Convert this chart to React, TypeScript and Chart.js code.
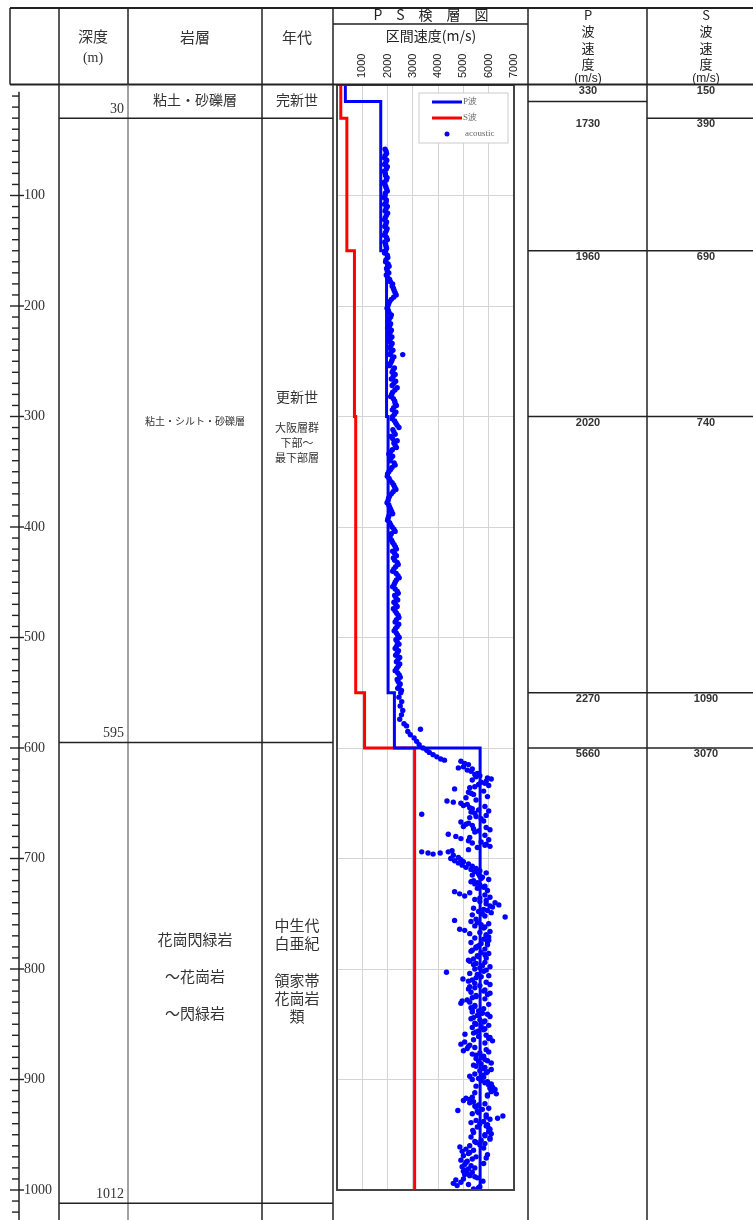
import { useEffect, useRef } from "react";
import { Chart, registerables } from "chart.js";
Chart.register(...registerables);

// ---- data ----
const velocityTicks = [1000, 2000, 3000, 4000, 5000, 6000, 7000];
const depthTicks = [100, 200, 300, 400, 500, 600, 700, 800, 900, 1000];
const pTops = [0, 15, 150, 300, 550, 600];
const pVel = [330, 1730, 1960, 2020, 2270, 5660];
const sTops = [0, 30, 150, 300, 550, 600];
const sVel = [150, 390, 690, 740, 1090, 3070];
const logBottom = 1000;
const layerBottoms = [30, 595, 1012];

// acoustic log readings [depth m, velocity m/s]
const acousticPoints: [number, number][] = [
  [58, 1900], [62, 1960], [66, 1880], [70, 1930], [74, 1990], [78, 1870], [82, 1920], [86, 1950],
  [90, 1890], [94, 1960], [98, 1910], [102, 1870], [106, 1940], [110, 1990], [114, 1900], [118, 1950],
  [122, 1880], [126, 1930], [130, 1980], [134, 1910], [138, 1960], [142, 1890], [146, 1940], [150, 1920],
  [154, 1990], [158, 1940], [162, 2020], [166, 1960], [170, 2050], [174, 2000], [178, 2110], [182, 2180],
  [186, 2260], [190, 2340], [194, 2150], [198, 2040], [202, 1980], [206, 2060], [210, 2120], [214, 2010],
  [218, 2080], [222, 2150], [226, 2050], [230, 2100], [234, 2180], [238, 2070], [242, 2130], [244, 2600],
  [246, 2250], [250, 2160], [254, 2080], [258, 2220], [262, 2300], [266, 2150], [270, 2250], [274, 2380],
  [278, 2200], [282, 2120], [286, 2280], [290, 2350], [294, 2190], [298, 2270],
  [302, 2180], [306, 2330], [310, 2450], [314, 2250], [318, 2120], [322, 2380], [326, 2300], [330, 2190],
  [334, 2050], [338, 2130], [342, 2260], [346, 2180], [350, 2050], [354, 1990], [358, 2100], [362, 2240],
  [366, 2330], [370, 2150], [374, 2040], [378, 1980], [382, 2080], [386, 2160], [390, 2050], [394, 2000],
  [398, 2120], [402, 2250], [406, 2150], [410, 2090], [414, 2200], [418, 2310], [422, 2200], [426, 2350],
  [430, 2280], [434, 2420], [438, 2250], [442, 2340], [446, 2460], [450, 2300], [454, 2200], [458, 2380],
  [462, 2280], [466, 2400], [470, 2320], [474, 2230], [478, 2360], [482, 2450], [486, 2300], [490, 2380],
  [494, 2260], [498, 2400], [502, 2330], [506, 2450], [510, 2300], [514, 2380], [518, 2480], [522, 2350],
  [526, 2420], [530, 2300], [534, 2460], [538, 2380], [542, 2500], [546, 2400], [550, 2520],
  [554, 2450], [558, 2560], [562, 2500], [566, 2600], [570, 2550], [574, 2480], [578, 2650], [580, 2750],
  [583, 3300], [585, 2800], [588, 2900], [591, 3050], [594, 3150], [597, 3250], [600, 3400], [602, 3550],
  [604, 3650], [606, 3800], [608, 3950], [610, 4100], [611, 4250], [612, 4900], [614, 5050], [615, 5200],
  [617, 5000], [619, 5350], [621, 5300], [623, 5550], [625, 5650], [626, 5500], [628, 6100], [630, 5900],
  [631, 5700], [633, 5600], [635, 5450], [637, 4650], [640, 5200], [642, 5400], [645, 5100], [648, 4350],
  [649, 4600], [650, 4900], [652, 5000], [654, 5250], [656, 5600], [658, 5300], [660, 3350], [662, 5500],
  [664, 5700], [667, 4900], [669, 5100], [671, 5000], [673, 5400], [675, 5600], [678, 4400], [680, 4700],
  [682, 4900], [684, 5200], [685, 5700], [687, 5900], [689, 6050], [694, 3350], [695, 3600], [696, 3800],
  [695, 4080], [694, 4400], [693, 4550], [700, 4500], [702, 4650], [704, 4800], [706, 4950], [708, 5100],
  [710, 5300], [712, 5450], [714, 5600], [716, 5650], [718, 5700], [720, 5400], [722, 5550], [724, 5650],
  [726, 5800], [730, 4650], [732, 4850], [734, 5050], [736, 5650], [738, 5900], [740, 6250], [742, 6400],
  [744, 6150], [746, 5800], [748, 5600], [750, 5750], [753, 6650], [756, 4650], [758, 5550], [760, 5700],
  [762, 5850], [764, 4850], [765, 5050], [767, 5650], [769, 5900], [771, 6000], [773, 5800], [775, 5950],
  [777, 5700], [779, 5600],
  [781, 5500], [783, 5350], [785, 5700], [787, 5850], [789, 5600], [791, 5400], [793, 5250], [795, 5500],
  [797, 5750], [799, 5650], [801, 5900], [803, 4330], [805, 5550], [807, 5700], [809, 4980], [811, 5200],
  [813, 5450], [815, 5650], [816, 5250], [818, 5200], [820, 5800], [822, 6050], [824, 5500], [826, 5350],
  [828, 5150], [829, 4950], [831, 4900], [833, 5450], [835, 5300], [837, 5350], [838, 5600], [840, 5750],
  [842, 5550], [844, 5400], [846, 5650], [848, 5800], [850, 5500], [852, 5700], [854, 5850], [856, 5600],
  [858, 5400], [859, 5060], [861, 5600], [863, 6000], [865, 6150], [866, 5050], [868, 4900], [870, 5200],
  [872, 5150], [874, 5000], [876, 5650], [878, 5500], [880, 5750], [882, 5850], [884, 5600], [886, 5700],
  [888, 5500], [890, 5800], [892, 5650], [894, 5900], [896, 5750], [897, 5250], [899, 5600], [901, 5700],
  [903, 5850], [905, 6000], [907, 6150], [909, 6250], [911, 6100], [913, 6300], [915, 5950], [917, 5100],
  [919, 5000], [921, 5250], [923, 5600], [925, 5500], [927, 5750], [928, 4780], [930, 5600], [932, 5900],
  [933, 6560], [935, 6350], [936, 6050], [938, 5800], [940, 5650], [942, 5900], [944, 6000], [946, 5370],
  [947, 6000], [949, 6100], [951, 5850], [953, 6050], [955, 5700], [957, 5500], [959, 5650], [961, 4860],
  [963, 5100], [965, 4950], [967, 5200], [969, 5000], [971, 5900], [973, 4900], [975, 5100], [977, 5050],
  [979, 4950], [981, 5200], [983, 5000], [985, 5150], [987, 5250], [989, 5550], [991, 4700], [992, 5770],
  [994, 4600], [996, 4750], [997, 5650], [998, 5600],
];

// further acoustic readings between the ones above
const acousticInfill: [number, number][] = [
  [60, 1940], [64, 1900], [68, 1970], [72, 1880], [76, 1950], [80, 1910], [84, 1980], [88, 1870],
  [92, 1930], [96, 1990], [100, 1900], [104, 1950], [108, 1880], [112, 1940], [116, 2000], [120, 1910],
  [124, 1960], [128, 1890], [132, 1950], [136, 1870], [140, 1990], [144, 1920], [148, 1960], [152, 1880],
  [156, 2010], [160, 1920], [164, 2060], [168, 1990], [172, 1950], [176, 2080], [180, 2200], [184, 2230],
  [188, 2300], [192, 2240], [196, 2080], [200, 2010], [204, 2030], [208, 2150], [212, 2060], [216, 2120],
  [220, 2000], [224, 2100], [228, 2170], [232, 2040], [236, 2130], [240, 2210], [244, 2090], [248, 2190],
  [252, 2110], [256, 2270], [260, 2180], [264, 2220], [268, 2320], [272, 2180], [276, 2290], [280, 2160],
  [284, 2230], [288, 2300], [292, 2240], [296, 2330], [300, 2200],
  [304, 2280], [308, 2380], [312, 2210], [316, 2300], [320, 2200], [324, 2250], [328, 2350], [332, 2120],
  [336, 2200], [340, 2090], [344, 2300], [348, 2120], [352, 2000], [356, 2060], [360, 2180], [364, 2280],
  [368, 2220], [372, 2080], [376, 2020], [380, 2050], [384, 2120], [388, 2200], [392, 2020], [396, 2080],
  [400, 2180], [404, 2300], [408, 2100], [412, 2160], [416, 2260], [420, 2350], [424, 2280], [428, 2230],
  [432, 2380], [436, 2320], [440, 2200], [444, 2410], [448, 2350], [452, 2260], [456, 2300], [460, 2420],
  [464, 2330], [468, 2250], [472, 2380], [476, 2300], [480, 2420], [484, 2350], [488, 2440], [492, 2310],
  [496, 2350], [500, 2460], [504, 2380], [508, 2350], [512, 2430], [516, 2320], [520, 2410], [524, 2480],
  [528, 2360], [532, 2400], [536, 2500], [540, 2420], [544, 2460], [548, 2550],
  [618, 4800], [620, 5150], [624, 5450], [627, 5950], [629, 5350], [632, 5850], [634, 6000], [636, 5250],
  [639, 5800], [641, 5300], [644, 5950], [647, 5500], [651, 5150], [653, 5850], [655, 5350], [657, 6000],
  [659, 5450], [661, 5900], [663, 5250], [666, 5800], [668, 5200], [670, 5350], [672, 5900], [674, 6050],
  [676, 5450], [679, 5850], [681, 5250], [683, 6000], [686, 5350], [688, 5850], [690, 5550], [692, 5200],
  [697, 4600], [699, 4800], [701, 4900], [703, 5000], [705, 5200], [707, 5350], [709, 5500], [711, 5650],
  [713, 5900], [715, 5350], [717, 5750], [719, 6000], [721, 5300], [723, 5450], [725, 5850], [727, 5550],
  [729, 5950], [731, 5250], [733, 5850], [735, 6050], [737, 5450], [739, 5650], [741, 5900], [743, 6050],
  [745, 5400], [747, 5950], [749, 6100], [751, 5350], [752, 5850], [755, 5500], [757, 5300], [759, 6000],
  [761, 5450], [763, 5800], [766, 6050], [768, 5250], [770, 5900], [772, 5450], [774, 6000], [776, 5300],
  [778, 5950], [780, 5500], [782, 5850], [784, 5300], [786, 6000], [788, 5550], [790, 5900], [792, 5200],
  [794, 5850], [796, 5400], [798, 6050], [800, 5450], [802, 5800], [804, 5250], [806, 6000], [808, 5500],
  [810, 5350], [812, 5900], [814, 6050], [817, 5450], [819, 5850], [821, 5300], [823, 5950], [825, 5500],
  [827, 5850], [830, 5250], [832, 6000], [834, 5450], [836, 5800], [839, 5350], [841, 5950], [843, 6050],
  [845, 5300], [847, 5850], [849, 5450], [851, 6000], [853, 5350], [855, 5800], [857, 5500], [860, 5900],
  [862, 6050], [864, 5400], [867, 5850], [869, 5250], [871, 5450], [873, 5900], [875, 6000], [877, 5350],
  [879, 5800], [881, 5500], [883, 5950], [885, 6100], [887, 5400], [889, 5850], [891, 6100], [893, 5950],
  [895, 5450], [898, 5800], [900, 5350], [902, 5950], [904, 6100], [906, 5500], [908, 6050], [910, 6150],
  [912, 5450], [914, 5950], [916, 5350], [918, 5250], [920, 5400], [922, 5850], [924, 5450], [926, 6000],
  [929, 5550], [931, 5350], [934, 5900], [937, 5500], [939, 5300], [941, 5950], [943, 5550], [945, 6050],
  [948, 5400], [950, 5850], [952, 5300], [954, 6050], [956, 5450], [958, 5850], [960, 5250], [962, 5800],
  [964, 5400], [966, 5250], [968, 5950], [970, 5500], [972, 5350], [974, 5150], [976, 5800], [978, 5300],
  [980, 5450], [982, 5100], [984, 5350], [986, 5050], [988, 5450], [990, 5000], [993, 4900], [995, 5200],
  [999, 5400],
];

function stepLine(tops: number[], vels: number[], bottom: number) {
  const pts: { x: number; y: number }[] = [];
  tops.forEach((t, i) => {
    const b = i < tops.length - 1 ? tops[i + 1] : bottom;
    pts.push({ x: vels[i], y: t }, { x: vels[i], y: b });
  });
  return pts;
}

const CJK = '"Noto Sans CJK JP"';
const SERIF = '"Liberation Serif"';
const SANS = '"Liberation Sans"';

function txt(ctx: CanvasRenderingContext2D, s: string, x: number, y: number, font: string, align: CanvasTextAlign = "center", color = "#333") {
  ctx.font = font;
  ctx.fillStyle = color;
  ctx.textAlign = align;
  ctx.textBaseline = "middle";
  ctx.fillText(s, x, y);
}

function line(ctx: CanvasRenderingContext2D, x1: number, y1: number, x2: number, y2: number, w = 1.5, c = "#222") {
  ctx.beginPath();
  ctx.strokeStyle = c;
  ctx.lineWidth = w;
  ctx.moveTo(x1, y1);
  ctx.lineTo(x2, y2);
  ctx.stroke();
}

const tablePlugin = {
  id: "psTable",
  afterDraw(chart: any) {
    const { ctx, chartArea: ca, scales } = chart;
    const xs = scales.x;
    const ys = scales.y;
    const Y = (d: number) => ys.getPixelForValue(d);
    const X = (v: number) => xs.getPixelForValue(v);
    ctx.save();
    // plot frame
    ctx.strokeStyle = "#444";
    ctx.lineWidth = 2;
    ctx.strokeRect(ca.left, ca.top, ca.right - ca.left, ca.bottom - ca.top);

    const top = 8;
    const hb = Y(0) - 0.5;
    const H = 1220;
    // header borders
    line(ctx, 10, top, 753, top, 2);
    line(ctx, 10, hb, 753, hb, 2);
    line(ctx, 10, top, 10, hb, 1.5);
    [59, 262, 333, 528, 647].forEach((c) => line(ctx, c, top, c, H, 1.5));
    line(ctx, 128, top, 128, hb, 1.5);
    line(ctx, 128, hb, 128, H, 1.2, "#666");
    line(ctx, 333, 24, 528, 24, 1.5);

    // layer lines
    layerBottoms.forEach((d) => line(ctx, 59, Y(d), 333, Y(d), 1.5));
    layerBottoms.forEach((d) => txt(ctx, String(d), 124, Y(d) - 9, `14px ${SERIF}`, "right", "#333"));

    // P & S columns
    pTops.slice(1).forEach((d) => line(ctx, 528, Y(d), 647, Y(d), 1.5));
    sTops.slice(1).forEach((d) => line(ctx, 647, Y(d), 766, Y(d), 1.5));
    pVel.forEach((v, i) => txt(ctx, String(v), 588, Y(sTops[i]) + 6, `bold 11px ${SANS}`, "center", "#333"));
    sVel.forEach((v, i) => txt(ctx, String(v), 706, Y(sTops[i]) + 6, `bold 11px ${SANS}`, "center", "#333"));

    // depth ruler
    line(ctx, 19, Y(6), 19, H, 1.5);
    for (let d = 10; d <= 1020; d += 10) {
      const major = d % 100 === 0;
      line(ctx, major ? 10 : 12, Y(d), major ? 24 : 19, Y(d), 1.4);
    }
    depthTicks.forEach((d) => txt(ctx, String(d), 24, Y(d), `14px ${SERIF}`, "left", "#333"));

    // header texts
    txt(ctx, "深度", 93, 36, `15px ${CJK}`);
    txt(ctx, "(m)", 93, 58, `14px ${SERIF}`);
    txt(ctx, "岩層", 195, 37, `15px ${CJK}`);
    txt(ctx, "年代", 297, 37, `15px ${CJK}`);
    txt(ctx, "P　S　検　層　図", 431, 15, `14px ${CJK}`, "center", "#222");
    txt(ctx, "区間速度(m/s)", 431, 36, `14px ${CJK}`, "center", "#222");
    ["P", "波", "速", "度"].forEach((s, i) => txt(ctx, s, 588, 15 + i * 16.5, `13px ${CJK}`, "center", "#222"));
    ["S", "波", "速", "度"].forEach((s, i) => txt(ctx, s, 706, 15 + i * 16.5, `13px ${CJK}`, "center", "#222"));
    txt(ctx, "(m/s)", 588, 79, `12px ${SANS}`, "center", "#222");
    txt(ctx, "(m/s)", 706, 79, `12px ${SANS}`, "center", "#222");
    // velocity tick labels (rotated)
    velocityTicks.forEach((v) => {
      ctx.save();
      ctx.translate(X(v), 78);
      ctx.rotate(-Math.PI / 2);
      txt(ctx, String(v), 0, 0, `11px ${SANS}`, "left", "#222");
      ctx.restore();
    });

    // body texts
    txt(ctx, "粘土・砂礫層", 195, 100, `14px ${CJK}`);
    txt(ctx, "完新世", 297, 100, `14px ${CJK}`);
    txt(ctx, "粘土・シルト・砂礫層", 195, 421, `10px ${CJK}`);
    txt(ctx, "更新世", 297, 397, `14px ${CJK}`);
    txt(ctx, "大阪層群", 297, 428, `11px ${CJK}`);
    txt(ctx, "下部～", 297, 443, `11px ${CJK}`);
    txt(ctx, "最下部層", 297, 458, `11px ${CJK}`);
    txt(ctx, "花崗閃緑岩", 195, 939, `15px ${CJK}`);
    txt(ctx, "～花崗岩", 195, 976, `15px ${CJK}`);
    txt(ctx, "～閃緑岩", 195, 1013, `15px ${CJK}`);
    txt(ctx, "中生代", 297, 925, `15px ${CJK}`);
    txt(ctx, "白亜紀", 297, 943, `15px ${CJK}`);
    txt(ctx, "領家帯", 297, 980, `15px ${CJK}`);
    txt(ctx, "花崗岩", 297, 998, `15px ${CJK}`);
    txt(ctx, "類", 297, 1016, `15px ${CJK}`);

    // legend
    const ds = chart.data.datasets;
    const lx = 419, ly = 93;
    ctx.fillStyle = "#fff";
    ctx.fillRect(lx, ly, 89, 50);
    ctx.strokeStyle = "#ccc";
    ctx.lineWidth = 1;
    ctx.strokeRect(lx, ly, 89, 50);
    const items = [ds[1], ds[2], ds[0]];
    items.forEach((d: any, i: number) => {
      const yy = ly + 9 + i * 16;
      if (d.showLine) {
        line(ctx, lx + 13, yy, lx + 43, yy, 3, d.borderColor);
      } else {
        ctx.beginPath();
        ctx.fillStyle = d.backgroundColor;
        ctx.arc(lx + 28, yy, 2.5, 0, Math.PI * 2);
        ctx.fill();
      }
      txt(ctx, d.label, lx + (d.showLine ? 44 : 46), yy, `9px ${SERIF}`, "left", "#666");
    });
    ctx.restore();
  },
};

export default function App() {
  const ref = useRef<HTMLCanvasElement>(null);
  useEffect(() => {
    if (!ref.current) return;
    const chart = new Chart(ref.current, {
      type: "scatter",
      data: {
        datasets: [
          {
            label: "acoustic",
            data: [...acousticPoints, ...acousticInfill].map(([d, v]) => ({ x: v, y: d })),
            backgroundColor: "#0000ff",
            borderColor: "#0000ff",
            borderWidth: 0,
            pointRadius: 2.7,
            showLine: false,
            order: 0,
          },
          {
            label: "P波",
            data: stepLine(pTops, pVel, logBottom),
            borderColor: "#0000ff",
            backgroundColor: "#0000ff",
            borderWidth: 3,
            pointRadius: 0,
            showLine: true,
            order: 1,
          },
          {
            label: "S波",
            data: stepLine(sTops, sVel, logBottom),
            borderColor: "#ff0000",
            backgroundColor: "#ff0000",
            borderWidth: 3,
            pointRadius: 0,
            showLine: true,
            order: 2,
          },
        ],
      },
      options: {
        responsive: false,
        animation: false,
        devicePixelRatio: 1,
        layout: { padding: { left: 337, right: 239, top: 85, bottom: 30 } },
        plugins: { legend: { display: false }, tooltip: { enabled: false } },
        scales: {
          x: {
            type: "linear",
            min: 0,
            max: 7000,
            position: "top",
            ticks: { display: false, stepSize: 1000 },
            grid: { color: "#d4d4d4", lineWidth: 1, drawTicks: false },
            border: { display: false },
          },
          y: {
            type: "linear",
            min: 0,
            max: logBottom,
            reverse: true,
            ticks: { display: false, stepSize: 100 },
            grid: { color: "#d4d4d4", lineWidth: 1, drawTicks: false },
            border: { display: false },
          },
        },
      },
      plugins: [tablePlugin],
    });
    return () => chart.destroy();
  }, []);
  return (
    <div style={{ position: "absolute", left: 0, top: 0, width: 753, height: 1220, background: "#fff" }}>
      <canvas ref={ref} width={753} height={1220} />
    </div>
  );
}
